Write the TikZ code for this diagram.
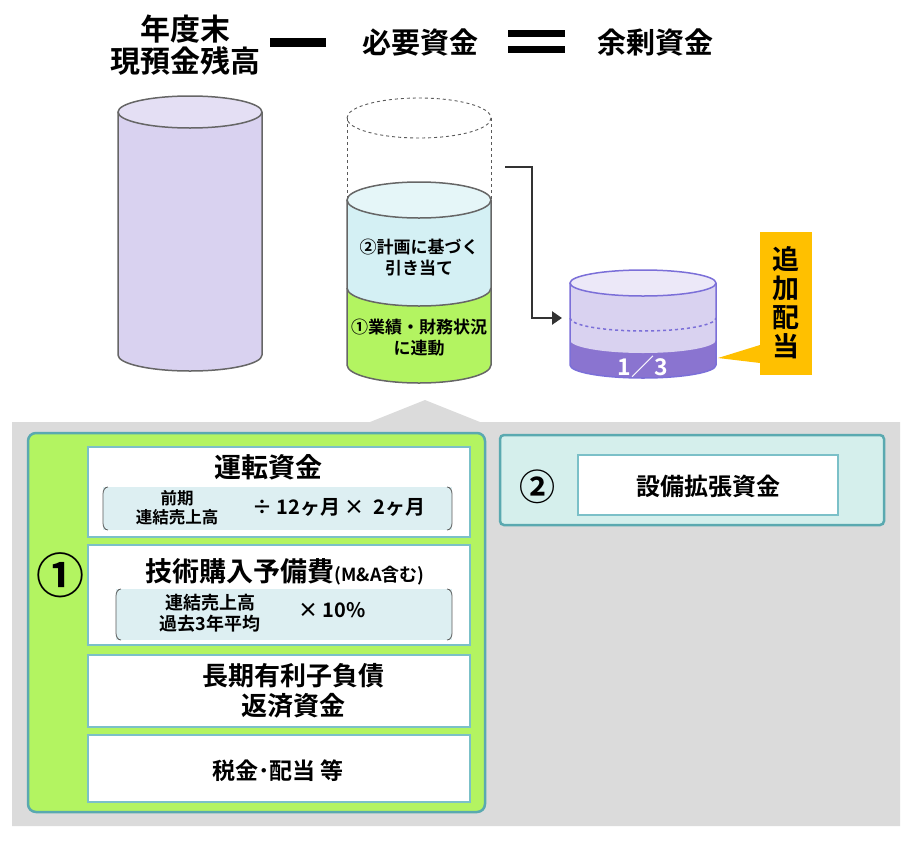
\documentclass[tikz,border=0pt]{standalone}
\usepackage{fontspec}
\setmainfont{Noto Sans CJK JP}[BoldFont={* Bold}]
\newfontfamily\jp{Noto Sans CJK JP Bold}
\usetikzlibrary{arrows.meta}
\definecolor{lav}{HTML}{D9D2F0}
\definecolor{lblue}{HTML}{D4F0F4}
\definecolor{lgreen}{HTML}{B3F461}
\definecolor{teal}{HTML}{5AA9B0}
\definecolor{tealL}{HTML}{7BC0C8}
\definecolor{pur}{HTML}{7B6FD8}
\definecolor{purD}{HTML}{8A74D0}
\definecolor{gold}{HTML}{FFC000}
\definecolor{inner}{HTML}{DDEFF2}
\definecolor{mint}{HTML}{D5EFEC}
\begin{document}
\begin{tikzpicture}[x=1pt,y=-1pt,
  t/.style={font=\jp, align=center, inner sep=0pt},
  wbox/.style={draw=tealL, line width=2.5pt, fill=white, inner sep=0pt},
  cyl/.style={draw=gray!80!black, line width=1.5pt}]
\useasboundingbox (0,0) rectangle (918,841);
% titles
\node[t, font=\jp\fontsize{30}{32}\selectfont] (tA) at (185,45) {年度末\\現預金残高};
\fill (270,38) rectangle (326,47);
\node[t, font=\jp\fontsize{29}{32}\selectfont] (tB) at (420,42) {必要資金};
\fill (508,30) rectangle (565,37); \fill (508,46) rectangle (565,53);
\node[t, font=\jp\fontsize{29}{32}\selectfont] (tC) at (655,42) {余剰資金};
% cylinder 1
\fill[lav] (118,112) -- (118,355) arc[start angle=180,end angle=0,x radius=72,y radius=16] -- (262,112) -- cycle;
\draw[cyl] (118,112) -- (118,355) arc[start angle=180,end angle=0,x radius=72,y radius=16] -- (262,112);
\draw[cyl, fill=lav!70!white] (190,112) ellipse[x radius=72, y radius=16];
% cylinder 2
\draw[dashed, gray!70!black, line width=0.9pt] (419,118) ellipse[x radius=72, y radius=20];
\draw[dashed, gray!70!black, line width=0.9pt] (347,118) -- (347,200) (491,118) -- (491,200);
\fill[lgreen] (347,288) -- (347,365) arc[start angle=180,end angle=0,x radius=72,y radius=18] -- (491,288) arc[start angle=0,end angle=-180,x radius=72,y radius=18] -- cycle;
\fill[lblue] (347,200) -- (347,288) arc[start angle=180,end angle=0,x radius=72,y radius=18] -- (491,200) -- cycle;
\draw[cyl] (347,288) arc[start angle=180,end angle=0,x radius=72,y radius=18];
\draw[cyl] (347,200) -- (347,365) arc[start angle=180,end angle=0,x radius=72,y radius=18] -- (491,200);
\draw[cyl, fill=lblue!60!white] (419,200) ellipse[x radius=72, y radius=18];
\node[t, font=\jp\fontsize{17}{21}\selectfont] (c2a) at (419,258) {②計画に基づく\\引き当て};
\node[t, font=\jp\fontsize{17}{21}\selectfont] (c2b) at (419,338) {①業績・財務状況\\に連動};
% arrow
\coordinate (a0) at (505,167);
\coordinate (a1) at (562,318);
\draw[gray!40!black, line width=2.8pt, -{Triangle[length=10pt,width=13pt]}] (a0) -- (532,167) -- (532,318) -- (a1);
% small cylinder
\fill[purD] (570,340) -- (570,365) arc[start angle=180,end angle=0,x radius=73,y radius=13] -- (716,340) arc[start angle=0,end angle=-180,x radius=73,y radius=13] -- cycle;
\fill[lav] (570,283) -- (570,340) arc[start angle=180,end angle=0,x radius=73,y radius=13] -- (716,283) -- cycle;
\draw[pur, dashed, line width=1.5pt] (570,318) arc[start angle=180,end angle=0,x radius=73,y radius=13];
\draw[pur, line width=1.5pt] (570,283) -- (570,365) arc[start angle=180,end angle=0,x radius=73,y radius=13] -- (716,283);
\draw[pur, line width=1.5pt, fill=lav!50!white] (643,283) ellipse[x radius=73, y radius=13];
\node[t, text=white, font=\jp\fontsize{23}{25}\selectfont] (frac) at (643,367) {1／3};
% callout
\fill[gold] (760,232) rectangle (812,375);
\fill[gold] (760,345) -- (718,358) -- (760,363) -- cycle;
\node[t, font=\jp\fontsize{27}{29}\selectfont] (tsuika) at (786,303) {追\\加\\配\\当};
% gray panel
\fill[gray!28] (12,422) -- (370,422) -- (425,400) -- (480,422) -- (900,422) -- (900,826) -- (12,826) -- cycle;
% green box
\draw[teal, line width=2.5pt, fill=lgreen, rounded corners=8pt] (28,433) rectangle (485,812);
\node[t, font=\jp\fontsize{48}{50}\selectfont] (n1) at (60,575) {①};
% box 1
\draw[wbox] (88,447) rectangle (470,537);
\node[t, font=\jp\fontsize{27}{30}\selectfont] (b1) at (268,467) {運転資金};
\fill[inner] (103,487) rectangle (452,530);
\draw[gray!70!black, line width=0.8pt] (108,487) to[out=180,in=90] (103,494) -- (103,523) to[out=-90,in=180] (108,530);
\draw[gray!70!black, line width=0.8pt] (447,487) to[out=0,in=90] (452,494) -- (452,523) to[out=-90,in=0] (447,530);
\node[t, font=\jp\fontsize{16.5}{19}\selectfont] (b1a) at (177,508) {前期\\連結売上高};
\node[t, font=\jp\fontsize{20}{22}\selectfont] (b1b) at (339,507) {÷ 12ヶ月 ×\ \ 2ヶ月};
% box 2
\draw[wbox] (88,545) rectangle (470,645);
\node[t] (b2) at (285,572) {{\fontsize{27}{30}\selectfont 技術購入予備費}{\fontsize{18}{20}\selectfont (M\&A含む)}};
\fill[inner] (116,589) rectangle (452,640);
\draw[gray!70!black, line width=0.8pt] (121,589) to[out=180,in=90] (116,596) -- (116,633) to[out=-90,in=180] (121,640);
\draw[gray!70!black, line width=0.8pt] (447,589) to[out=0,in=90] (452,596) -- (452,633) to[out=-90,in=0] (447,640);
\node[t, font=\jp\fontsize{18}{21}\selectfont] (b2a) at (210,613) {連結売上高\\過去3年平均};
\node[t, font=\jp\fontsize{20}{22}\selectfont] (b2b) at (332,610) {× 10\%};
% box 3
\draw[wbox] (88,655) rectangle (470,727);
\node[t, font=\jp\fontsize{26}{30}\selectfont] (b3) at (293,691) {長期有利子負債\\返済資金};
% box 4
\draw[wbox] (88,735) rectangle (470,802);
\node[t, font=\jp\fontsize{23}{25}\selectfont] (b4) at (278,771) {税金･配当 等};
% box 2 right
\draw[teal, line width=2.5pt, fill=mint, rounded corners=4pt] (500,435) rectangle (884,525);
\node[t, font=\jp\fontsize{36}{38}\selectfont] (n2) at (537,487) {②};
\draw[wbox] (578,455) rectangle (838,515);
\node[t, font=\jp\fontsize{24}{26}\selectfont] (b5) at (708,486) {設備拡張資金};
\end{tikzpicture}
\end{document}
